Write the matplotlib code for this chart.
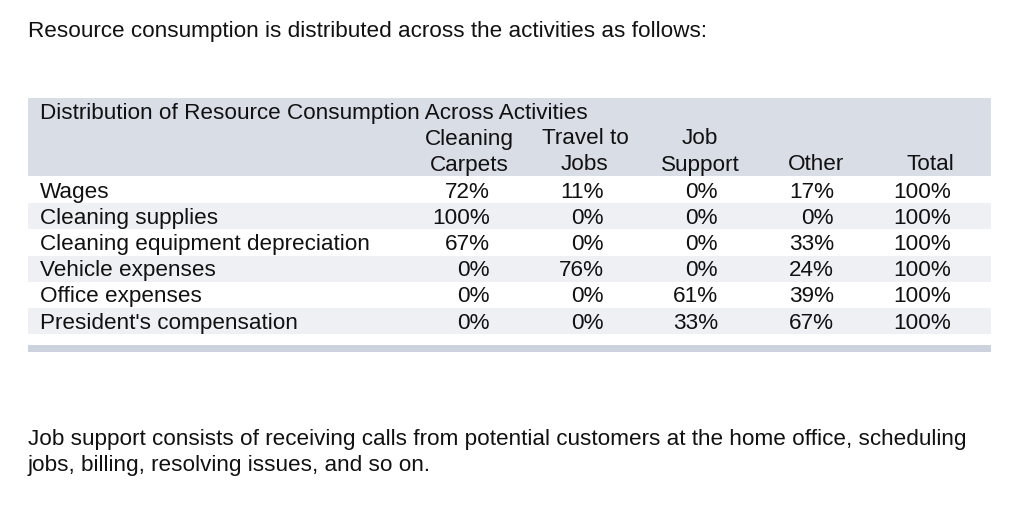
import matplotlib.pyplot as plt
from matplotlib.patches import Rectangle

plt.rcParams['font.family'] = ['Liberation Sans', 'DejaVu Sans']

intro = "Resource consumption is distributed across the activities as follows:"
table_title = "Distribution of Resource Consumption Across Activities"
col_head_1 = ["Cleaning", "Travel to", "Job", "", ""]
col_head_2 = ["Carpets", "Jobs", "Support", "Other", "Total"]
resources = ["Wages", "Cleaning supplies", "Cleaning equipment depreciation",
             "Vehicle expenses", "Office expenses", "President's compensation"]
cleaning_carpets = [72, 100, 67, 0, 0, 0]
travel_to_jobs = [11, 0, 0, 76, 0, 0]
job_support = [0, 0, 0, 0, 61, 33]
other = [17, 0, 33, 24, 39, 67]
total = [100, 100, 100, 100, 100, 100]
footnote = ["Job support consists of receiving calls from potential customers at the home office, scheduling",
            "jobs, billing, resolving issues, and so on."]

columns = [cleaning_carpets, travel_to_jobs, job_support, other, total]

fig = plt.figure(figsize=(10.24, 5.07), dpi=100)
ax = fig.add_axes([0, 0, 1, 1])
ax.set_xlim(0, 1024)
ax.set_ylim(507, 0)
ax.axis('off')

txt = '#111111'
fs = 16.2
left, right = 28, 991
bl = 7.5  # baseline offset below the visual line centre


def put(x, y, s, ha='left'):
    ax.text(x, y + bl, s, fontsize=fs, color=txt, va='baseline', ha=ha)


put(left, 30, intro)

# header block
ax.add_patch(Rectangle((left, 98), right - left, 78, color='#d8dde6', lw=0))
put(40, 111, table_title)

head_cx = [469, 585, 700, 816, 930]
num_rx = [490, 604, 718, 834, 951]
for cx, h1, h2 in zip(head_cx, col_head_1, col_head_2):
    if h1:
        put(cx, 137, h1, 'center')
    put(cx, 163, h2, 'center')

# body rows
row_top, row_h = 177, 26.2
for i, name in enumerate(resources):
    y0 = row_top + i * row_h
    if i % 2 == 1:
        ax.add_patch(Rectangle((left, y0), right - left, row_h, color='#eff0f3', lw=0))
    yc = y0 + row_h / 2
    put(40, yc, name)
    for rx, col in zip(num_rx, columns):
        put(rx, yc, f"{col[i]}%", 'right')

# bottom rule
ax.add_patch(Rectangle((left, 345), right - left, 7, color='#cdd3de', lw=0))

# footnote
for k, line in enumerate(footnote):
    put(left, 437 + k * 26, line)

fig.savefig('out.png', dpi=100, facecolor='white')
